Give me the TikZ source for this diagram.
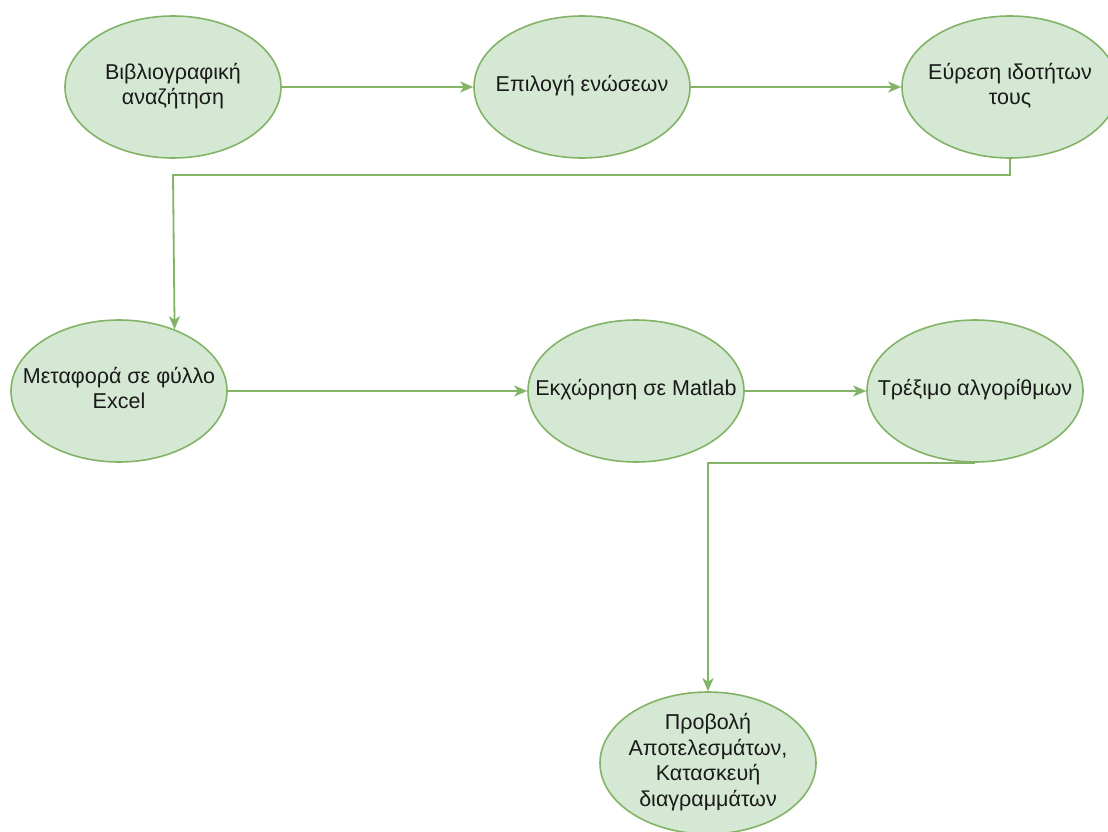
\documentclass[tikz,border=0pt]{standalone}
\usepackage{fontspec}
\setmainfont{Liberation Sans}
\usetikzlibrary{shapes.geometric,arrows.meta}
\definecolor{nodefill}{HTML}{D5E8D4}
\definecolor{nodeline}{HTML}{82B366}
\definecolor{txt}{HTML}{1A1A1A}
% centred text block that does not enlarge the ellipse around it
\newcommand\steptext[1]{\smash{\makebox[0pt]{\raisebox{-5pt}{\begin{tabular}{@{}c@{}}#1\end{tabular}}}}}
\begin{document}
\begin{tikzpicture}[x=1pt,y=-1pt,
  stepnode/.style={ellipse, draw=nodeline, fill=nodefill, line width=1.6pt,
    minimum width=216pt, minimum height=142pt, inner sep=0pt,
    text=txt, font=\fontsize{21.5}{25.5}\selectfont},
  flow/.style={draw=nodeline, line width=1.8pt,
    -{Stealth[length=13pt,width=11pt,inset=3.5pt]}}]
\useasboundingbox (0,0) rectangle (1108,832);
\clip (0,0) rectangle (1108,832);
\fill[white] (0,0) rectangle (1108,832);

% top row
\node[stepnode] (lit)   at (173,87)  {\steptext{Βιβλιογραφική\\αναζήτηση}};
\node[stepnode] (sel)   at (582,87)  {\steptext{Επιλογή ενώσεων}};
\node[stepnode] (props) at (1010,87) {\steptext{Εύρεση ιδοτήτων\\τους}};

% middle row
\node[stepnode] (excel)  at (119,391) {\steptext{Μεταφορά σε φύλλο\\Excel}};
\node[stepnode] (matlab) at (636,391) {\steptext{Εκχώρηση σε Matlab}};
\node[stepnode] (algo)   at (975,391) {\steptext{Τρέξιμο αλγορίθμων}};

% bottom
\node[stepnode] (plots) at (708,763) {\steptext{Προβολή\\Αποτελεσμάτων,\\Κατασκευή\\διαγραμμάτων}};

% connectors
\coordinate (turn1) at (173,175);
\draw[flow] (lit.east) -- (sel.west);
\draw[flow] (sel.east) -- (props.west);
\draw[flow] (props.south) |- (turn1) -- (excel.48.7);
\draw[flow] (excel.east) -- (matlab.west);
\draw[flow] (matlab.east) -- (algo.west);
\draw[flow] (algo.south) -| (plots.north);
\end{tikzpicture}
\end{document}
